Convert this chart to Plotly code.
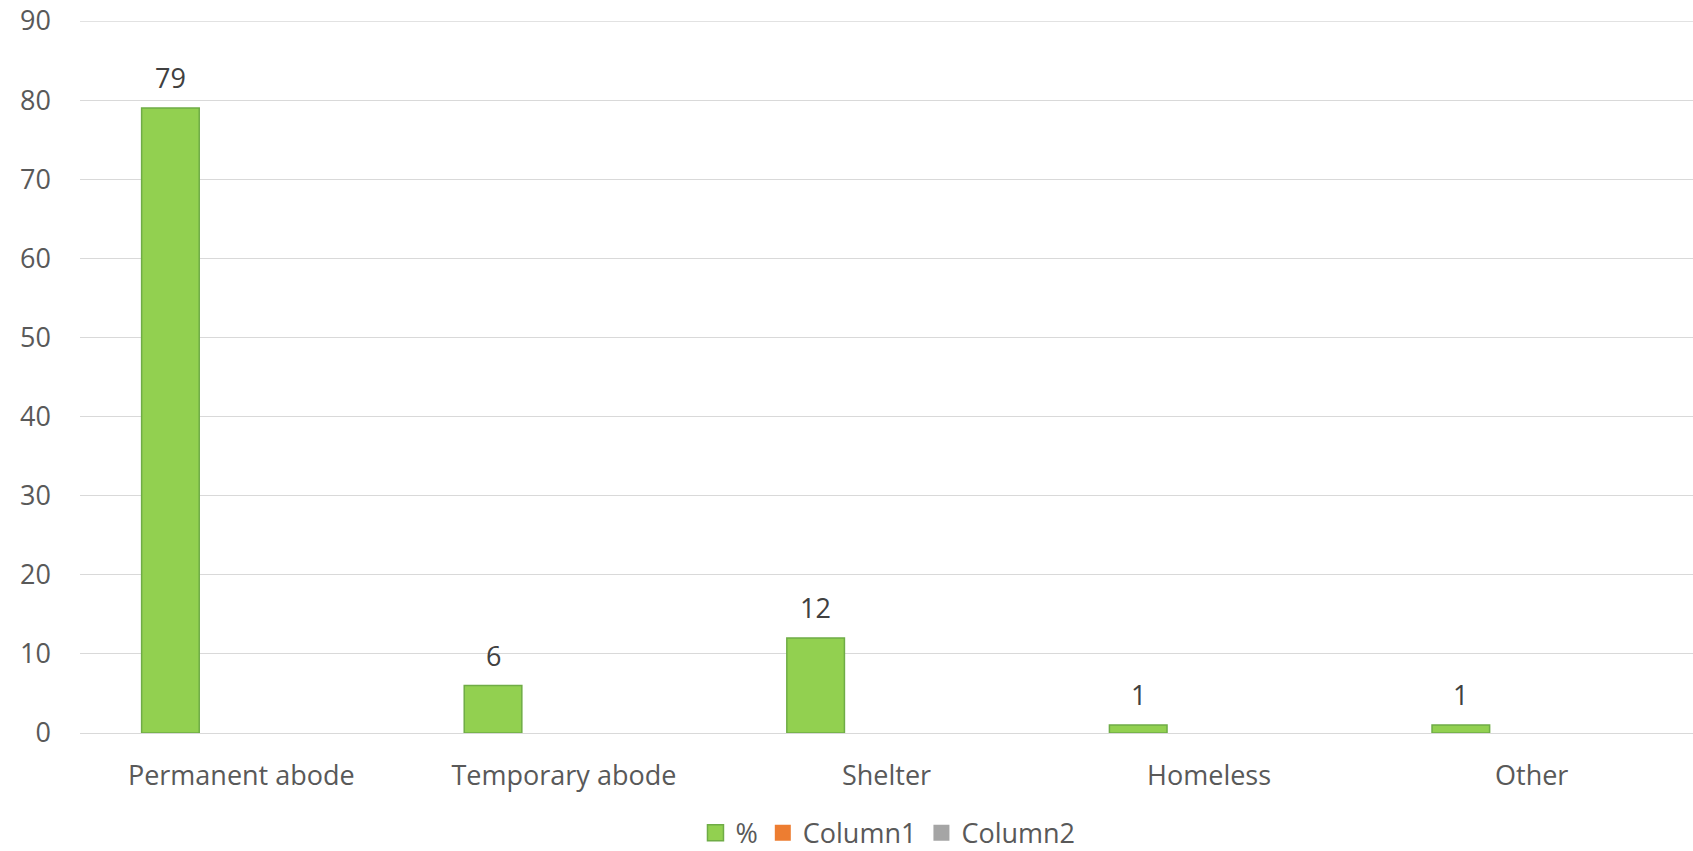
import plotly.graph_objects as go

categories = ["Permanent abode", "Temporary abode", "Shelter", "Homeless", "Other"]
pct_values = [79, 6, 12, 1, 1]
column1_values = [None, None, None, None, None]
column2_values = [None, None, None, None, None]
y_ticks = [0, 10, 20, 30, 40, 50, 60, 70, 80, 90]

FONT = "Open Sans"
BAR_OFFSET = -0.309
BAR_WIDTH = 0.1786
CAT_PX = (1693 - 80) / len(categories)
GREEN, GREEN_EDGE = "#92D050", "#6FAC46"

fig = go.Figure()
fig.add_trace(go.Bar(
    name="%", x=categories, y=pct_values, legendgroup="pct", showlegend=False,
    offset=BAR_OFFSET, width=BAR_WIDTH,
    marker=dict(color=GREEN, line=dict(color=GREEN_EDGE, width=1.5)),
))
# legend entries (square swatches like the source chart)
fig.add_trace(go.Scatter(name="%", x=categories, y=[None] * len(categories),
                         legendgroup="pct", mode="markers",
                         marker=dict(symbol="square", size=17, color=GREEN,
                                     line=dict(color=GREEN_EDGE, width=1.5))))
fig.add_trace(go.Scatter(name="Column1", x=categories, y=column1_values, mode="markers",
                         marker=dict(symbol="square", size=17, color="#ED7D31")))
fig.add_trace(go.Scatter(name="Column2", x=categories, y=column2_values, mode="markers",
                         marker=dict(symbol="square", size=17, color="#A5A5A5")))

for cat, val in zip(categories, pct_values):
    fig.add_annotation(x=cat, y=val, text=str(val), showarrow=False,
                       xanchor="center", yanchor="bottom",
                       xshift=(BAR_OFFSET + BAR_WIDTH / 2) * CAT_PX, yshift=10,
                       font=dict(family=FONT, size=27, color="#404040"))

fig.add_hline(y=90, line=dict(color="#D9D9D9", width=1.3), layer="below")

fig.update_layout(
    width=1693, height=851,
    margin=dict(l=80, r=0, t=21, b=118, autoexpand=False),
    plot_bgcolor="white", paper_bgcolor="white",
    barmode="overlay",
    font=dict(family=FONT, size=27, color="#595959"),
    showlegend=True,
    legend=dict(orientation="h", xref="container", x=0.5245, xanchor="center",
                yref="container", y=0.021, yanchor="middle", itemsizing="trace",
                font=dict(size=27, color="#595959"), traceorder="normal"),
    xaxis=dict(showgrid=False, showline=False, ticks="", ticklabelstandoff=24,
               automargin=False, tickfont=dict(size=27, color="#595959")),
    yaxis=dict(range=[0, 90], tickvals=y_ticks, showgrid=True, gridcolor="#D9D9D9",
               gridwidth=1.3, zeroline=True, zerolinecolor="#D9D9D9", zerolinewidth=1.3,
               showline=False, ticks="", ticklabelstandoff=28, automargin=False,
               tickfont=dict(size=27, color="#595959")),
)
fig.write_html("out.html", config={"displayModeBar": False},
               post_script="document.body.style.margin='0';document.body.style.overflow='hidden';")
